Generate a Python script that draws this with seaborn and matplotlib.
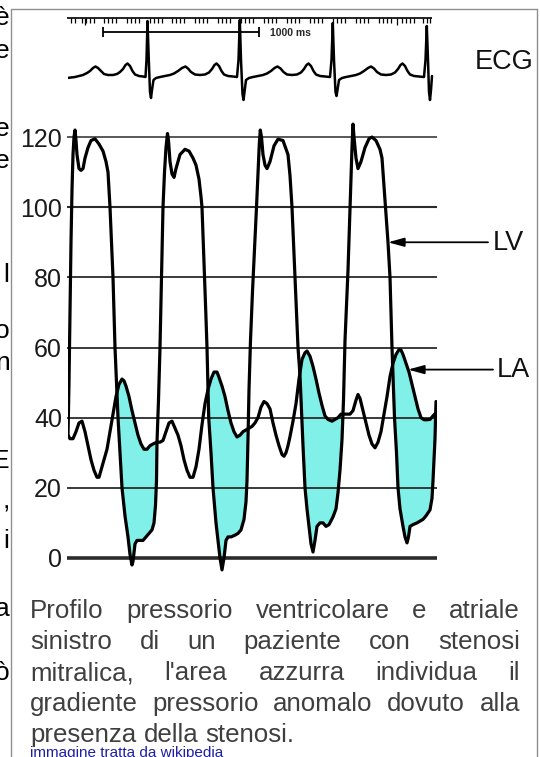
import numpy as np
import matplotlib
matplotlib.use("Agg")
import matplotlib.pyplot as plt
import seaborn as sns
from matplotlib.lines import Line2D

sns.set_theme(style="white")
plt.rcParams["font.family"] = ["Liberation Sans", "DejaVu Sans"]

# ---------------- data ----------------
# time axis: arbitrary units (1 unit ~ 6.4 ms), pressure in mmHg
lv_t = [0, 1, 2, 3, 4, 5, 6, 7, 8, 9, 11, 13, 15, 17, 20, 23, 27, 31, 35, 38, 40, 42,
        43.5, 45, 46, 47, 48.5, 50, 52, 54, 57, 60, 62, 64, 65, 67, 69, 72, 75, 78, 81, 84,
        86, 87.5, 88.5, 89, 90.5, 92, 93.5, 95, 96.5, 98, 99.5, 100.5, 102, 104, 106, 108,
        112, 117, 121, 125, 128, 131, 133, 134, 135.3, 136.5, 137.8, 139, 139.8, 140.7,
        143, 145, 148, 150, 152, 154, 156, 158, 160, 163, 167, 170, 173, 176, 178, 179,
        180, 181, 182.5, 184.5, 186.5, 188.5, 190, 191.3, 192.3, 193.5, 195, 197, 199,
        202, 206, 210, 215, 220, 222, 224, 225.5, 227, 228.5, 230, 232, 233.5, 235, 237,
        239, 241, 243, 245, 247, 249, 252, 255, 258, 261, 265, 268, 270, 272, 274, 275.5,
        277, 278.5, 280, 281.5, 283, 284, 285, 286, 288, 290, 293, 297, 301, 304, 308,
        312, 314, 316, 317.5, 320, 322, 323, 324, 325, 326.5, 328.5, 330, 332, 335, 337,
        339, 340.5, 342, 345, 349, 352, 355, 358, 362, 364, 365, 366, 367, 368]
lv_p = [35, 50, 70, 90, 105, 115, 120, 122, 119, 115, 111, 110.5, 111, 114, 117, 119,
        119.5, 118, 116, 113, 110, 100, 90, 80, 70, 60, 50, 40, 30, 20, 12, 6, 1, -2, -1,
        4, 5, 5, 5, 6, 7, 8, 10, 15, 22, 33, 45, 60, 80, 100, 110, 117, 121, 119, 113,
        109.5, 108.5, 111, 115, 116.5, 116, 114, 112, 108, 103, 100, 90, 80, 70, 60, 50,
        40, 30, 20, 10, 5, 0, -3.4, 0, 5, 6, 6, 6.5, 7, 8, 11, 16, 22, 34, 48, 62, 76, 88,
        100, 110, 118, 122, 120, 115, 112, 111, 113, 117.5, 119.4, 119, 115, 109, 100, 90,
        80, 70, 60, 52, 42, 32, 20, 14, 9, 4, 1.7, 5, 9, 10, 10, 9, 9.5, 11.7, 14, 18.6,
        25, 33.7, 45, 62, 72, 82, 95, 108, 117, 123.7, 120, 114, 111, 113, 117, 119.5, 120,
        119, 116.5, 114, 106, 100, 90, 80, 70, 60, 52, 40, 30, 20, 14, 9, 6, 4.3, 6, 9,
        9.5, 10, 10.5, 11, 12, 13.7, 17, 22, 28, 34, 44.6]

la_t = [0, 2, 5, 8, 11, 14, 17, 20, 23, 26, 29, 31, 33, 36, 39, 42, 45, 48, 51, 54, 56,
        58, 61, 64, 67, 70, 73, 76, 79, 82, 85, 89, 92, 95, 98, 101, 104, 107, 110, 113,
        116, 119, 122, 125, 128, 131, 134, 137, 140, 143, 146, 149, 151, 154, 157, 160,
        163, 166, 169, 172, 175, 178, 181, 184, 187, 190, 193, 196, 199, 202, 205, 208,
        211, 214, 216, 218, 220, 222, 225, 228, 231, 234, 237, 239, 242, 245, 248, 251,
        254, 257, 260, 264, 267, 270, 273, 276, 279, 282, 285, 288, 290, 292, 295, 298,
        301, 304, 307, 310, 313, 316, 319, 322, 325, 328, 331, 333, 335, 338, 341, 344,
        347, 350, 353, 356, 359, 362, 365, 368]
la_p = [35, 34, 34, 36, 38.5, 39, 36, 32, 28, 25, 23, 23, 25, 28, 31, 36, 41, 46, 49.5,
        51, 50.5, 49, 46, 42, 38.5, 35, 32.5, 31, 31, 32, 32.5, 33, 33, 33.5, 36, 38.5,
        39, 37, 35, 32, 28, 25, 23, 23, 26, 31, 38, 44, 48, 51, 53, 53, 51.5, 49, 46, 42,
        38.5, 36, 34.5, 35, 36, 36.5, 37, 37.5, 38.5, 40, 43, 44.6, 44, 42.5, 38.5, 35,
        32, 29.5, 29, 30, 32, 34.6, 39, 44, 51, 56.6, 58.5, 59, 57.5, 54.6, 51, 47, 43.5,
        40.5, 39.5, 39, 39.5, 40, 41, 41, 41, 41, 42, 45, 46.6, 45.5, 42, 38.5, 35, 32.5,
        31.4, 33, 36, 41, 46, 51.7, 55.5, 58, 59.4, 59.3, 58, 55.5, 53, 49.5, 46, 42.5,
        40, 39.4, 39.4, 39.5, 40.5, 41.4]

ecg_t = [-1, 3, 7, 11, 15, 19, 22, 25, 27.5, 30, 33, 36, 40, 45, 49, 52, 55, 57.5, 59.5,
         62, 64.5, 67, 71, 75, 77.5,
         78.5, 79.5, 80.8, 82, 83, 84, 85.5,
         88, 92, 97, 102, 106, 110, 114, 117.5, 120, 123, 127, 132, 137, 141, 144, 146.5,
         148.5, 151, 153.5, 156, 160, 165, 169,
         170.5, 171.8, 173, 174.5, 175.5, 176.5, 178,
         181, 185, 190, 195, 199, 203, 206.5, 209.5, 212.5, 215.5, 219, 224, 229, 233, 236,
         238.5, 240.5, 243, 245.5, 248, 252, 257, 262,
         263.5, 264.8, 266, 267.5, 268.5, 269.5, 271,
         274, 278, 283, 288, 292, 296, 300, 303, 306, 309, 313, 318, 323, 327, 330, 332.5,
         334.5, 337, 339.5, 342, 346, 351, 356,
         357.5, 358.8, 360, 361, 362, 363, 364]
ecg_v = [-0.04, -0.03, -0.02, 0.00, 0.02, 0.06, 0.10, 0.16, 0.19, 0.16, 0.10, 0.04, 0.02,
         0.02, 0.04, 0.08, 0.14, 0.22, 0.25, 0.20, 0.10, 0.03, 0.00, -0.01, -0.02,
         0.32, 1.10, 0.32, -0.32, -0.44, -0.28, -0.08,
         -0.04, -0.02, 0.00, 0.02, 0.05, 0.10, 0.16, 0.19, 0.15, 0.08, 0.03, 0.02, 0.03,
         0.07, 0.14, 0.22, 0.25, 0.20, 0.10, 0.03, 0.00, -0.01, -0.02,
         0.32, 1.12, 0.32, -0.36, -0.48, -0.32, -0.08,
         -0.04, -0.02, 0.00, 0.02, 0.05, 0.10, 0.16, 0.19, 0.15, 0.08, 0.03, 0.02, 0.03,
         0.07, 0.14, 0.22, 0.25, 0.20, 0.10, 0.03, 0.00, -0.01, -0.02,
         0.32, 1.06, 0.32, -0.32, -0.40, -0.28, -0.08,
         -0.04, -0.02, 0.00, 0.02, 0.05, 0.10, 0.16, 0.19, 0.15, 0.08, 0.03, 0.02, 0.03,
         0.07, 0.14, 0.22, 0.25, 0.20, 0.10, 0.03, 0.00, -0.01, -0.02,
         0.32, 1.00, 0.32, -0.32, -0.48, -0.28, 0.00]

# ruler ticks on the ECG strip (time units) and the 1000 ms scale bar
ruler_ticks = [3, 7, 14, 18, 22, 26, 36, 40, 44, 48, 59, 63, 67, 71, 82, 86, 90, 94,
               104, 108, 112, 116, 127, 131, 135, 139, 150, 154, 158, 162, 173, 177, 181,
               185, 196, 200, 204, 208, 219, 223, 227, 231, 242, 246, 250, 254, 265, 269,
               273, 277, 288, 292, 296, 300, 311, 315, 319, 323, 334, 338, 342, 346, 355,
               359, 362]
ruler_long = [17, 329]
scale_bar = [35, 191]
scale_label = "1000 ms"

p_ticks = [0, 20, 40, 60, 80, 100, 120]
p_labels = ["0", "20", "40", "60", "80", "100", "120"]

caption = ["Profilo pressorio ventricolare e atriale",
           "sinistro di un paziente con stenosi",
           "mitralica, l'area azzurra individua il",
           "gradiente pressorio anomalo dovuto alla",
           "presenza della stenosi."]
source = "immagine tratta da wikipedia"
left_chars = ["è", "e", "e", "e", "l", "o", "n", "E", ",", "i", "a", "ò"]

# ---------------- layout ----------------
W, H = 540, 757
fig = plt.figure(figsize=(W / 100, H / 100), dpi=100)
fig.patch.set_facecolor("white")


def fx(px):
    return px / W


def fy(py):
    return 1 - py / H


# pressure panel
ax = fig.add_axes([fx(68), fy(579), (437 - 68) / W, (579 - 116) / H])
ax.set_xlim(0, 369)
ax.set_ylim(-6, 126)
ax.patch.set_alpha(0)
for s in ax.spines.values():
    s.set_visible(False)
ax.set_xticks([])
ax.set_yticks(p_ticks)
ax.set_yticklabels(p_labels, fontsize=18, color="#1a1a1a")
ax.tick_params(axis="y", length=0, pad=4.3)
ax.grid(False)

grid_lw = [2.6, 1.3, 1.3, 1.3, 1.3, 1.5, 1.1]
ax.hlines(p_ticks, -1, 369, colors="#2b2b2b", linewidths=grid_lw, zorder=2, clip_on=False)

# fill where LA pressure exceeds LV pressure
grid_t = np.union1d(lv_t, la_t)
lv_i = np.interp(grid_t, lv_t, lv_p)
la_i = np.interp(grid_t, la_t, la_p)
ax.fill_between(grid_t, lv_i, la_i, where=la_i > lv_i, interpolate=True,
                color="#80F0E8", lw=0, zorder=1)

sns.lineplot(x=lv_t, y=lv_p, ax=ax, color="black", lw=2.3, sort=False,
             estimator=None, zorder=3)
sns.lineplot(x=la_t, y=la_p, ax=ax, color="black", lw=2.3, sort=False,
             estimator=None, zorder=3)
ax.set_xlabel("")
ax.set_ylabel("")

arrow_style = dict(arrowstyle="-|>,head_length=0.8,head_width=0.22", color="black",
                   lw=1.3, shrinkA=0, shrinkB=0)
ax.annotate("", xy=(320, 90), xytext=(420, 90), arrowprops=arrow_style,
            annotation_clip=False)
ax.annotate("", xy=(340, 53.7), xytext=(425, 53.7), arrowprops=arrow_style,
            annotation_clip=False)

# ECG panel
ax2 = fig.add_axes([fx(68), fy(110), (437 - 68) / W, 100 / H])
ax2.set_xlim(0, 369)
ax2.set_ylim(-0.68, 1.32)
ax2.patch.set_alpha(0)
ax2.axis("off")
sns.lineplot(x=ecg_t, y=ecg_v, ax=ax2, color="black", lw=1.8, sort=False,
             estimator=None)
ax2.hlines(1.16, -1, 364, colors="black", lw=1.2, clip_on=False)
ax2.vlines(ruler_ticks, 1.07, 1.16, colors="black", lw=0.9, clip_on=False)
ax2.vlines(ruler_long, 1.02, 1.16, colors="black", lw=0.9, clip_on=False)
ax2.hlines(0.88, scale_bar[0], scale_bar[1], colors="black", lw=1.3)
ax2.vlines(scale_bar, 0.78, 0.98, colors="black", lw=1.3)
ax2.text(scale_bar[1] + 11, 0.86, scale_label, fontsize=7.5, fontweight="bold",
         ha="left", va="center")

# labels
fig.text(fx(475), fy(62), "ECG", fontsize=19.5, ha="left", va="center", color="#111")
fig.text(fx(493), fy(243), "LV", fontsize=19.5, ha="left", va="center", color="#111")
fig.text(fx(497), fy(370), "LA", fontsize=19.5, ha="left", va="center", color="#111")

# clipped characters of the neighbouring text column
left_base = [25, 58, 136, 168, 282, 338, 370, 468, 508, 548, 616, 680]
for ch, b in zip(left_chars, left_base):
    fig.text(fx(9.5), fy(b), ch, fontsize=19, ha="right", va="baseline", color="black")

# frame of the image box
frame = dict(color="#8f8f8f", lw=1.0, transform=fig.transFigure)
fig.add_artist(Line2D([fx(10.5), fx(10.5)], [fy(9), fy(757)], **frame))
fig.add_artist(Line2D([fx(10.5), fx(537)], [fy(9), fy(9)], **frame))
fig.add_artist(Line2D([fx(537), fx(537)], [fy(9), fy(757)], **frame))

# justified caption
fig.canvas.draw()
renderer = fig.canvas.get_renderer()
cap_base = [618, 649, 680, 711, 742]
x_left, x_right = 30, 520
for i, line in enumerate(caption):
    words = line.split()
    txts = [fig.text(0, fy(cap_base[i]), w, fontsize=18.6, color="#3f3f3f",
                     ha="left", va="baseline") for w in words]
    widths = [t.get_window_extent(renderer).width for t in txts]
    if i < len(caption) - 1:
        gap = (x_right - x_left - sum(widths)) / (len(words) - 1)
    else:
        gap = 7.2
    x = x_left
    for t, w in zip(txts, widths):
        t.set_x(fx(x))
        x += w + gap

fig.text(fx(30), fy(757), source, fontsize=11, color="#1f1fa8", ha="left",
         va="baseline")

fig.savefig("out.png", dpi=100, facecolor="white")
